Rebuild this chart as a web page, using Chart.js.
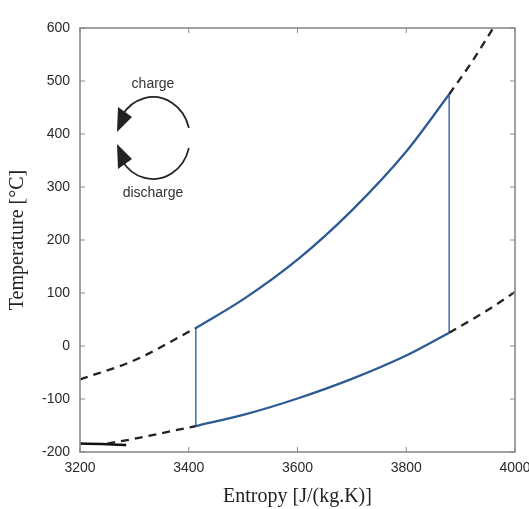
<!DOCTYPE html>
<html>
<head>
<meta charset="utf-8">
<script src="https://cdn.jsdelivr.net/npm/chart.js@4.4.0/dist/chart.umd.min.js"></script>
<style>
  html, body { margin: 0; padding: 0; background: #fff; }
  #wrap { width: 529px; height: 509px; }
</style>
</head>
<body>
<div id="wrap"><canvas id="tsChart" width="529" height="509"></canvas></div>
<script>
// Entropy (x) and temperature (y)
const upperLeftS  = [3200, 3300, 3413];
const upperLeftT  = [-63, -27, 34];
const upperS      = [3413, 3500, 3600, 3700, 3800, 3879];
const upperT      = [34, 88, 163, 256, 367, 475];
const upperRightS = [3879, 3920, 3960];
const upperRightT = [475, 535, 600];

const lowerLeftS  = [3250, 3300, 3413];
const lowerLeftT  = [-184, -175, -151];
const lowerS      = [3413, 3500, 3600, 3700, 3800, 3879];
const lowerT      = [-151, -130, -99, -62, -18, 25];
const lowerRightS = [3879, 3950, 4000];
const lowerRightT = [25, 68, 102];

const coldLineS = [3200, 3240, 3285];
const coldLineT = [-184, -185, -187];

const xTicks = [3200, 3400, 3600, 3800, 4000];
const yTicks = [-200, -100, 0, 100, 200, 300, 400, 500, 600];

const blue = '#2c5a92';
const lightBlue = '#4a78b0';

function pts(xs, ys) {
    return xs.map((x, i) => ({ x: x, y: ys[i] }));
}

function dashed(xs, ys) {
    return { data: pts(xs, ys), borderColor: '#222', borderWidth: 2.3, borderDash: [8, 6], cubicInterpolationMode: 'monotone' };
}

function solid(xs, ys, color, width) {
    return { data: pts(xs, ys), borderColor: color, borderWidth: width, cubicInterpolationMode: 'monotone' };
}

// Box with inward ticks on all four sides, MATLAB style
const boxPlugin = {
    id: 'box',
    afterDatasetsDraw(chart) {
        const { ctx, chartArea: a, scales } = chart;
        ctx.save();
        ctx.strokeStyle = '#8a8a8a';
        ctx.lineWidth = 1;
        xTicks.forEach(v => {
            const px = scales.x.getPixelForValue(v);
            ctx.beginPath();
            ctx.moveTo(px, a.bottom); ctx.lineTo(px, a.bottom - 5);
            ctx.moveTo(px, a.top); ctx.lineTo(px, a.top + 5);
            ctx.stroke();
        });
        yTicks.forEach(v => {
            const py = scales.y.getPixelForValue(v);
            ctx.beginPath();
            ctx.moveTo(a.left, py); ctx.lineTo(a.left + 5, py);
            ctx.moveTo(a.right, py); ctx.lineTo(a.right - 5, py);
            ctx.stroke();
        });
        ctx.lineWidth = 1.6;
        ctx.strokeRect(a.left, a.top, a.right - a.left, a.bottom - a.top);
        ctx.restore();
    }
};

// charge / discharge cycle symbol
const cyclePlugin = {
    id: 'cycle',
    afterDraw(chart) {
        const { ctx, chartArea: a } = chart;
        const cx = a.left + 73, cy = a.top + 110, r = 37;
        ctx.save();
        ctx.strokeStyle = '#222';
        ctx.fillStyle = '#222';
        ctx.lineWidth = 1.8;
        ctx.beginPath();
        ctx.ellipse(cx, cy, r, r + 4, 0, -0.25, -2.55, true);
        ctx.stroke();
        ctx.beginPath();
        ctx.ellipse(cx, cy, r, r + 4, 0, 0.25, 2.55, false);
        ctx.stroke();
        // arrow heads
        ctx.beginPath();
        ctx.moveTo(cx - 36, cy - 6);
        ctx.lineTo(cx - 35, cy - 31);
        ctx.lineTo(cx - 21, cy - 21);
        ctx.closePath();
        ctx.fill();
        ctx.beginPath();
        ctx.moveTo(cx - 36, cy + 6);
        ctx.lineTo(cx - 35, cy + 31);
        ctx.lineTo(cx - 21, cy + 21);
        ctx.closePath();
        ctx.fill();
        ctx.font = '14px "Liberation Sans", Arial, sans-serif';
        ctx.fillStyle = '#333';
        ctx.textAlign = 'center';
        ctx.textBaseline = 'middle';
        ctx.fillText('charge', cx, cy - 54);
        ctx.fillText('discharge', cx, cy + 55);
        ctx.restore();
    }
};

const tickFont = { family: '"Liberation Sans", Arial, sans-serif', size: 14 };
const titleFont = { family: '"Liberation Serif", "DejaVu Serif", serif', size: 20 };

const ctx = document.getElementById('tsChart').getContext('2d');
const tsChart = new Chart(ctx, {
    type: 'line',
    data: {
        datasets: [
            dashed(upperLeftS, upperLeftT),
            dashed(upperRightS, upperRightT),
            dashed(lowerLeftS, lowerLeftT),
            dashed(lowerRightS, lowerRightT),
            solid(upperS, upperT, blue, 2.3),
            solid(lowerS, lowerT, blue, 2.3),
            solid([upperS[0], lowerS[0]], [upperT[0], lowerT[0]], lightBlue, 1.6),
            solid([upperS[upperS.length - 1], lowerS[lowerS.length - 1]], [upperT[upperT.length - 1], lowerT[lowerT.length - 1]], lightBlue, 1.6),
            solid(coldLineS, coldLineT, '#111', 2.5)
        ]
    },
    options: {
        responsive: false,
        animation: false,
        clip: true,
        layout: { padding: { top: 28, right: 14, left: 0, bottom: 0 } },
        elements: { point: { radius: 0 } },
        plugins: { legend: { display: false }, tooltip: { enabled: false } },
        scales: {
            x: {
                type: 'linear',
                min: 3200,
                max: 4000,
                afterBuildTicks: s => { s.ticks = xTicks.map(v => ({ value: v })); },
                afterFit: s => { s.height = 57; s.paddingLeft = 0; s.paddingRight = 0; },
                grid: { display: false, drawTicks: false },
                border: { display: false },
                ticks: { padding: 8, color: '#2a2a2a', font: tickFont, callback: v => String(v) },
                title: {
                    display: true,
                    text: 'Entropy [J/(kg.K)]',
                    color: '#222',
                    padding: { top: 2, bottom: 0 },
                    font: titleFont
                }
            },
            y: {
                min: -200,
                max: 600,
                afterBuildTicks: s => { s.ticks = yTicks.map(v => ({ value: v })); },
                afterFit: s => { s.width = 80; s.paddingTop = 0; s.paddingBottom = 0; },
                grid: { display: false, drawTicks: false },
                border: { display: false },
                ticks: { padding: 10, color: '#2a2a2a', font: tickFont, callback: v => String(v) },
                title: {
                    display: true,
                    text: 'Temperature [°C]',
                    color: '#222',
                    padding: { top: 6, bottom: 0 },
                    font: titleFont
                }
            }
        }
    },
    plugins: [boxPlugin, cyclePlugin]
});
</script>
</body>
</html>
